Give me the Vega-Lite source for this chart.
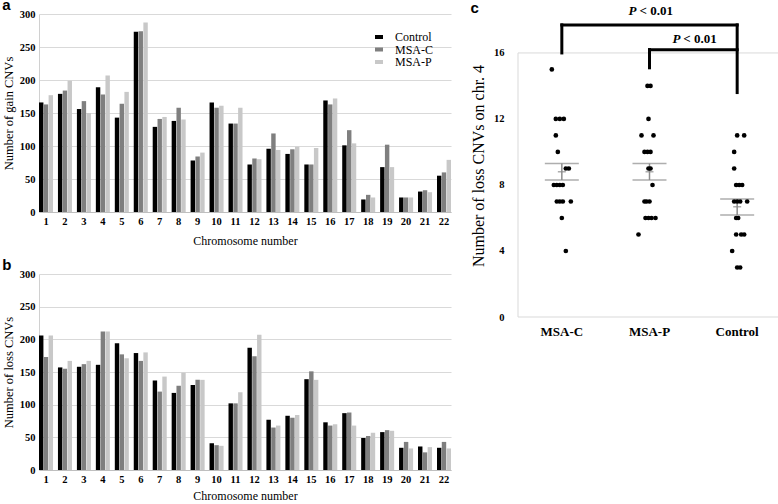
{
  "$schema": "https://vega.github.io/schema/vega-lite/v6.json",
  "padding": {"left": 2, "top": -2, "right": 1, "bottom": 0},
  "config": {
    "view": {"stroke": null},
    "font": "Liberation Serif",
    "axis": {
      "labelFont": "Liberation Serif", "labelFontWeight": "bold", "labelFontSize": 10.5, "labelColor": "#000",
      "titleFont": "Liberation Serif", "titleFontWeight": "normal", "titleColor": "#000",
      "ticks": false, "gridColor": "#d9d9d9", "domainColor": "#d0d0d0"
    },
    "legend": {
      "labelFont": "Liberation Serif", "labelFontSize": 12, "labelColor": "#000",
      "symbolType": "M-1,-0.5H1V0.5H-1Z", "symbolSize": 64, "symbolStrokeWidth": 0,
      "labelOffset": 10, "rowPadding": 0.5
    },
    "title": {"font": "Liberation Sans", "fontSize": 15, "fontWeight": "bold", "anchor": "start", "frame": "bounds", "color": "#000"}
  },
  "datasets": {
    "gain": [
      {"chr":1,"group":"Control","value":166},{"chr":1,"group":"MSA-C","value":163},{"chr":1,"group":"MSA-P","value":177},
      {"chr":2,"group":"Control","value":179},{"chr":2,"group":"MSA-C","value":184},{"chr":2,"group":"MSA-P","value":199},
      {"chr":3,"group":"Control","value":156},{"chr":3,"group":"MSA-C","value":168},{"chr":3,"group":"MSA-P","value":150},
      {"chr":4,"group":"Control","value":189},{"chr":4,"group":"MSA-C","value":178},{"chr":4,"group":"MSA-P","value":207},
      {"chr":5,"group":"Control","value":143},{"chr":5,"group":"MSA-C","value":164},{"chr":5,"group":"MSA-P","value":182},
      {"chr":6,"group":"Control","value":273},{"chr":6,"group":"MSA-C","value":274},{"chr":6,"group":"MSA-P","value":287},
      {"chr":7,"group":"Control","value":129},{"chr":7,"group":"MSA-C","value":141},{"chr":7,"group":"MSA-P","value":144},
      {"chr":8,"group":"Control","value":138},{"chr":8,"group":"MSA-C","value":158},{"chr":8,"group":"MSA-P","value":140},
      {"chr":9,"group":"Control","value":78},{"chr":9,"group":"MSA-C","value":84},{"chr":9,"group":"MSA-P","value":90},
      {"chr":10,"group":"Control","value":166},{"chr":10,"group":"MSA-C","value":158},{"chr":10,"group":"MSA-P","value":161},
      {"chr":11,"group":"Control","value":134},{"chr":11,"group":"MSA-C","value":134},{"chr":11,"group":"MSA-P","value":158},
      {"chr":12,"group":"Control","value":72},{"chr":12,"group":"MSA-C","value":81},{"chr":12,"group":"MSA-P","value":80},
      {"chr":13,"group":"Control","value":96},{"chr":13,"group":"MSA-C","value":119},{"chr":13,"group":"MSA-P","value":94},
      {"chr":14,"group":"Control","value":88},{"chr":14,"group":"MSA-C","value":95},{"chr":14,"group":"MSA-P","value":99},
      {"chr":15,"group":"Control","value":72},{"chr":15,"group":"MSA-C","value":72},{"chr":15,"group":"MSA-P","value":97},
      {"chr":16,"group":"Control","value":169},{"chr":16,"group":"MSA-C","value":163},{"chr":16,"group":"MSA-P","value":172},
      {"chr":17,"group":"Control","value":101},{"chr":17,"group":"MSA-C","value":124},{"chr":17,"group":"MSA-P","value":104},
      {"chr":18,"group":"Control","value":19},{"chr":18,"group":"MSA-C","value":26},{"chr":18,"group":"MSA-P","value":22},
      {"chr":19,"group":"Control","value":68},{"chr":19,"group":"MSA-C","value":102},{"chr":19,"group":"MSA-P","value":68},
      {"chr":20,"group":"Control","value":22},{"chr":20,"group":"MSA-C","value":22},{"chr":20,"group":"MSA-P","value":22},
      {"chr":21,"group":"Control","value":31},{"chr":21,"group":"MSA-C","value":33},{"chr":21,"group":"MSA-P","value":30},
      {"chr":22,"group":"Control","value":55},{"chr":22,"group":"MSA-C","value":60},{"chr":22,"group":"MSA-P","value":79}
    ],
    "loss": [
      {"chr":1,"group":"Control","value":206},{"chr":1,"group":"MSA-C","value":173},{"chr":1,"group":"MSA-P","value":206},
      {"chr":2,"group":"Control","value":157},{"chr":2,"group":"MSA-C","value":155},{"chr":2,"group":"MSA-P","value":167},
      {"chr":3,"group":"Control","value":158},{"chr":3,"group":"MSA-C","value":162},{"chr":3,"group":"MSA-P","value":167},
      {"chr":4,"group":"Control","value":161},{"chr":4,"group":"MSA-C","value":212},{"chr":4,"group":"MSA-P","value":212},
      {"chr":5,"group":"Control","value":194},{"chr":5,"group":"MSA-C","value":177},{"chr":5,"group":"MSA-P","value":171},
      {"chr":6,"group":"Control","value":179},{"chr":6,"group":"MSA-C","value":167},{"chr":6,"group":"MSA-P","value":180},
      {"chr":7,"group":"Control","value":137},{"chr":7,"group":"MSA-C","value":120},{"chr":7,"group":"MSA-P","value":143},
      {"chr":8,"group":"Control","value":118},{"chr":8,"group":"MSA-C","value":129},{"chr":8,"group":"MSA-P","value":149},
      {"chr":9,"group":"Control","value":130},{"chr":9,"group":"MSA-C","value":138},{"chr":9,"group":"MSA-P","value":138},
      {"chr":10,"group":"Control","value":41},{"chr":10,"group":"MSA-C","value":38},{"chr":10,"group":"MSA-P","value":37},
      {"chr":11,"group":"Control","value":102},{"chr":11,"group":"MSA-C","value":102},{"chr":11,"group":"MSA-P","value":119},
      {"chr":12,"group":"Control","value":187},{"chr":12,"group":"MSA-C","value":174},{"chr":12,"group":"MSA-P","value":207},
      {"chr":13,"group":"Control","value":77},{"chr":13,"group":"MSA-C","value":65},{"chr":13,"group":"MSA-P","value":68},
      {"chr":14,"group":"Control","value":83},{"chr":14,"group":"MSA-C","value":80},{"chr":14,"group":"MSA-P","value":84},
      {"chr":15,"group":"Control","value":139},{"chr":15,"group":"MSA-C","value":151},{"chr":15,"group":"MSA-P","value":138},
      {"chr":16,"group":"Control","value":73},{"chr":16,"group":"MSA-C","value":68},{"chr":16,"group":"MSA-P","value":70},
      {"chr":17,"group":"Control","value":87},{"chr":17,"group":"MSA-C","value":88},{"chr":17,"group":"MSA-P","value":68},
      {"chr":18,"group":"Control","value":49},{"chr":18,"group":"MSA-C","value":52},{"chr":18,"group":"MSA-P","value":57},
      {"chr":19,"group":"Control","value":58},{"chr":19,"group":"MSA-C","value":61},{"chr":19,"group":"MSA-P","value":60},
      {"chr":20,"group":"Control","value":34},{"chr":20,"group":"MSA-C","value":43},{"chr":20,"group":"MSA-P","value":33},
      {"chr":21,"group":"Control","value":36},{"chr":21,"group":"MSA-C","value":27},{"chr":21,"group":"MSA-P","value":35},
      {"chr":22,"group":"Control","value":34},{"chr":22,"group":"MSA-C","value":43},{"chr":22,"group":"MSA-P","value":33}
    ],
    "dots": [
      {"group":"MSA-C","value":15,"jitter":-10},
      {"group":"MSA-C","value":12,"jitter":-6},{"group":"MSA-C","value":12,"jitter":-2},{"group":"MSA-C","value":12,"jitter":2},
      {"group":"MSA-C","value":11,"jitter":-6},
      {"group":"MSA-C","value":10,"jitter":-4},
      {"group":"MSA-C","value":9,"jitter":4},{"group":"MSA-C","value":9,"jitter":7},
      {"group":"MSA-C","value":8,"jitter":-8},{"group":"MSA-C","value":8,"jitter":-5},{"group":"MSA-C","value":8,"jitter":-2},{"group":"MSA-C","value":8,"jitter":1},
      {"group":"MSA-C","value":7,"jitter":-5},{"group":"MSA-C","value":7,"jitter":-2},{"group":"MSA-C","value":7,"jitter":1},{"group":"MSA-C","value":7,"jitter":9},
      {"group":"MSA-C","value":6,"jitter":0},
      {"group":"MSA-C","value":4,"jitter":4},
      {"group":"MSA-P","value":14,"jitter":-2},{"group":"MSA-P","value":14,"jitter":1},
      {"group":"MSA-P","value":12,"jitter":-1},
      {"group":"MSA-P","value":11,"jitter":-8},{"group":"MSA-P","value":11,"jitter":4},
      {"group":"MSA-P","value":10,"jitter":-5},{"group":"MSA-P","value":10,"jitter":-2},{"group":"MSA-P","value":10,"jitter":1},
      {"group":"MSA-P","value":9,"jitter":-1},{"group":"MSA-P","value":9,"jitter":1},
      {"group":"MSA-P","value":8,"jitter":3},
      {"group":"MSA-P","value":7,"jitter":-5},{"group":"MSA-P","value":7,"jitter":-3},{"group":"MSA-P","value":7,"jitter":0},
      {"group":"MSA-P","value":6,"jitter":-4},{"group":"MSA-P","value":6,"jitter":-1},{"group":"MSA-P","value":6,"jitter":2},{"group":"MSA-P","value":6,"jitter":6},
      {"group":"MSA-P","value":5,"jitter":-11},
      {"group":"Control","value":11,"jitter":0},{"group":"Control","value":11,"jitter":7},
      {"group":"Control","value":10,"jitter":-3},
      {"group":"Control","value":9,"jitter":-3},
      {"group":"Control","value":8,"jitter":-1},{"group":"Control","value":8,"jitter":2},{"group":"Control","value":8,"jitter":5},
      {"group":"Control","value":7,"jitter":-3},{"group":"Control","value":7,"jitter":0},{"group":"Control","value":7,"jitter":3},{"group":"Control","value":7,"jitter":10},
      {"group":"Control","value":6,"jitter":-1},{"group":"Control","value":6,"jitter":1},
      {"group":"Control","value":5,"jitter":-1},{"group":"Control","value":5,"jitter":4},{"group":"Control","value":5,"jitter":7},
      {"group":"Control","value":4,"jitter":-5},
      {"group":"Control","value":3,"jitter":0},{"group":"Control","value":3,"jitter":3}
    ],
    "sem": [
      {"group":"MSA-C","lo":8.3,"mean":8.8,"hi":9.3},
      {"group":"MSA-P","lo":8.3,"mean":8.8,"hi":9.3},
      {"group":"Control","lo":6.18,"mean":6.68,"hi":7.15}
    ],
    "vbr": [
      {"group":"MSA-C","y1":16,"y2":17.7},
      {"group":"Control","y1":13.6,"y2":17.7},
      {"group":"MSA-P","y1":15.1,"y2":16.2}
    ],
    "hbr": [
      {"from":"MSA-C","to":"Control","y":17.7},
      {"from":"MSA-P","to":"Control","y":16.2}
    ],
    "ptext": [
      {"group":"MSA-P","y":18.55,"level":1},
      {"group":"Control","y":16.85,"level":2}
    ],
    "frameH": [{"y":0},{"y":16}],
    "frameV": [{"lo":0,"hi":16}]
  },
  "hconcat": [
    {
      "spacing": 11,
      "vconcat": [
        {
          "title": {"text": "a", "offset": -4},
          "width": 412, "height": 198,
          "data": {"name": "gain"},
          "mark": {"type": "bar"},
          "encoding": {
            "x": {"field": "chr", "type": "ordinal", "scale": {"paddingInner": 0.26, "paddingOuter": 0},
                  "axis": {"title": "Chromosome number", "labelAngle": 0, "labelPadding": 4, "titlePadding": 9, "titleFontSize": 12, "domainColor": "#bfbfbf"}},
            "xOffset": {"field": "group", "type": "nominal", "sort": ["Control","MSA-C","MSA-P"], "scale": {"paddingInner": 0.08}},
            "y": {"field": "value", "type": "quantitative", "scale": {"domain": [0, 300], "nice": false},
                  "axis": {"title": "Number of gain CNVs", "values": [0,50,100,150,200,250,300], "labelPadding": 4, "titlePadding": 4, "titleFontSize": 12.5}},
            "color": {"field": "group", "type": "nominal",
                      "scale": {"domain": ["Control","MSA-C","MSA-P"], "range": ["#000000","#7f7f7f","#c8c8c8"]},
                      "legend": {"title": null, "orient": "none", "legendX": 334, "legendY": 17, "labelFont": "Liberation Serif", "labelFontSize": 12}}
          }
        },
        {
          "title": {"text": "b", "offset": -4},
          "width": 412, "height": 196,
          "data": {"name": "loss"},
          "mark": {"type": "bar"},
          "encoding": {
            "x": {"field": "chr", "type": "ordinal", "scale": {"paddingInner": 0.26, "paddingOuter": 0},
                  "axis": {"title": "Chromosome number", "labelAngle": 0, "labelPadding": 4, "titlePadding": 6, "titleFontSize": 12, "domainColor": "#bfbfbf"}},
            "xOffset": {"field": "group", "type": "nominal", "sort": ["Control","MSA-C","MSA-P"], "scale": {"paddingInner": 0.08}},
            "y": {"field": "value", "type": "quantitative", "scale": {"domain": [0, 300], "nice": false},
                  "axis": {"title": "Number of loss CNVs", "values": [0,50,100,150,200,250,300], "labelPadding": 4, "titlePadding": 4, "titleFontSize": 12.5}},
            "color": {"field": "group", "type": "nominal",
                      "scale": {"domain": ["Control","MSA-C","MSA-P"], "range": ["#000000","#7f7f7f","#c8c8c8"]},
                      "legend": {"title": null, "orient": "none", "legendX": 334, "legendY": 18, "labelFont": "Liberation Serif", "labelFontSize": 12}}
          }
        }
      ]
    },
    {
      "title": {"text": "c", "offset": -11},
      "width": 263, "height": 303,
      "encoding": {
        "x": {"field": "group", "type": "nominal", "sort": ["MSA-C","MSA-P","Control"],
              "scale": {"domain": ["MSA-C","MSA-P","Control"], "paddingInner": 0, "paddingOuter": 0},
              "axis": {"title": null, "labelAngle": 0, "labelFontSize": 13, "labelPadding": 8, "domain": false}}
      },
      "layer": [
        {
          "data": {"name": "frameH"},
          "mark": {"type": "rule", "color": "#d9d9d9", "strokeWidth": 1},
          "encoding": {
            "x": null,
            "y": {"field": "y", "type": "quantitative", "scale": {"domain": [0, 18.36], "nice": false},
                  "axis": {"title": "Number of loss CNVs on chr. 4", "values": [0,4,8,12,16], "grid": false, "domain": false,
                           "labelPadding": 14, "titlePadding": 7, "titleFontSize": 16}}
          }
        },
        {
          "data": {"name": "frameV"},
          "mark": {"type": "rule", "color": "#d9d9d9", "strokeWidth": 1},
          "encoding": {
            "x": {"datum": "MSA-C", "type": "nominal", "bandPosition": 0},
            "y": {"field": "lo", "type": "quantitative"},
            "y2": {"field": "hi"}
          }
        },
        {
          "data": {"name": "frameV"},
          "mark": {"type": "rule", "color": "#d9d9d9", "strokeWidth": 1},
          "encoding": {
            "x": {"datum": "Control", "type": "nominal", "bandPosition": 1},
            "y": {"field": "lo", "type": "quantitative"},
            "y2": {"field": "hi"}
          }
        },
        {
          "data": {"name": "sem"},
          "mark": {"type": "rule", "color": "#8c8c8c", "strokeWidth": 1.5},
          "encoding": {
            "y": {"field": "lo", "type": "quantitative"},
            "y2": {"field": "hi"}
          }
        },
        {
          "data": {"name": "sem"},
          "mark": {"type": "tick", "color": "#8c8c8c", "size": 34, "thickness": 1.5},
          "encoding": {"y": {"field": "lo", "type": "quantitative"}}
        },
        {
          "data": {"name": "sem"},
          "mark": {"type": "tick", "color": "#8c8c8c", "size": 34, "thickness": 1.5},
          "encoding": {"y": {"field": "hi", "type": "quantitative"}}
        },
        {
          "data": {"name": "sem"},
          "mark": {"type": "tick", "color": "#8c8c8c", "size": 8, "thickness": 1.5},
          "encoding": {"y": {"field": "mean", "type": "quantitative"}}
        },
        {
          "data": {"name": "dots"},
          "mark": {"type": "point", "filled": true, "color": "#000", "size": 22, "opacity": 1},
          "encoding": {
            "xOffset": {"field": "jitter", "type": "quantitative", "scale": {"domain": [-43.8, 43.8]}},
            "y": {"field": "value", "type": "quantitative"}
          }
        },
        {
          "data": {"name": "vbr"},
          "mark": {"type": "rule", "color": "#000", "strokeWidth": 3, "strokeCap": "square"},
          "encoding": {
            "y": {"field": "y1", "type": "quantitative"},
            "y2": {"field": "y2"}
          }
        },
        {
          "data": {"name": "hbr"},
          "mark": {"type": "rule", "color": "#000", "strokeWidth": 3, "strokeCap": "square"},
          "encoding": {
            "x": {"field": "from", "type": "nominal", "sort": ["MSA-C","MSA-P","Control"]},
            "x2": {"field": "to"},
            "y": {"field": "y", "type": "quantitative"}
          }
        },
        {
          "data": {"name": "ptext"},
          "transform": [{"filter": "datum.level == 1"}],
          "mark": {"type": "text", "text": "P", "fontStyle": "italic", "fontWeight": "bold", "fontSize": 13, "align": "right", "dx": -13, "color": "#000"},
          "encoding": {
            "x": {"field": "group", "type": "nominal", "bandPosition": 0.5},
            "y": {"field": "y", "type": "quantitative"}
          }
        },
        {
          "data": {"name": "ptext"},
          "transform": [{"filter": "datum.level == 1"}],
          "mark": {"type": "text", "text": "< 0.01", "fontWeight": "bold", "fontSize": 13, "align": "left", "dx": -10, "color": "#000"},
          "encoding": {
            "x": {"field": "group", "type": "nominal", "bandPosition": 0.5},
            "y": {"field": "y", "type": "quantitative"}
          }
        },
        {
          "data": {"name": "ptext"},
          "transform": [{"filter": "datum.level == 2"}],
          "mark": {"type": "text", "text": "P", "fontStyle": "italic", "fontWeight": "bold", "fontSize": 13, "align": "right", "dx": -13, "color": "#000"},
          "encoding": {
            "x": {"field": "group", "type": "nominal", "bandPosition": 0},
            "y": {"field": "y", "type": "quantitative"}
          }
        },
        {
          "data": {"name": "ptext"},
          "transform": [{"filter": "datum.level == 2"}],
          "mark": {"type": "text", "text": "< 0.01", "fontWeight": "bold", "fontSize": 13, "align": "left", "dx": -10, "color": "#000"},
          "encoding": {
            "x": {"field": "group", "type": "nominal", "bandPosition": 0},
            "y": {"field": "y", "type": "quantitative"}
          }
        }
      ]
    }
  ],
  "spacing": 18
}
